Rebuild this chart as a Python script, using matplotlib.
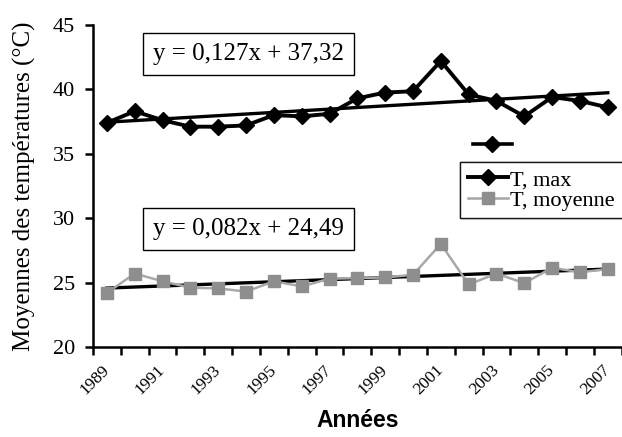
import numpy as np
import matplotlib
matplotlib.use('Agg')
import matplotlib.pyplot as plt
from matplotlib.lines import Line2D
from matplotlib.legend import Legend

annees = list(range(1989, 2008))
t_max = [37.4, 38.3, 37.6, 37.1, 37.1, 37.2, 38.0, 37.9, 38.1, 39.3,
         39.75, 39.85, 42.2, 39.6, 39.1, 37.9, 39.4, 39.1, 38.6]
t_moy = [24.2, 25.7, 25.1, 24.6, 24.55, 24.3, 25.1, 24.7, 25.3, 25.35,
         25.4, 25.6, 28.0, 24.85, 25.7, 24.95, 26.15, 25.8, 26.05]
# trend lines (Excel) : y = a*x + b, x = 1..n
trend_max = (0.127, 37.32)
trend_moy = (0.082, 24.49)
eq_max = 'y = 0,127x + 37,32'
eq_moy = 'y = 0,082x + 24,49'

serif = 'Liberation Serif'
grey_mk = '#8e8e8e'
grey_ln = '#a8a8a8'

fig = plt.figure(figsize=(6.22, 4.37), dpi=100)
ax = fig.add_axes([0.1495, 0.206, 0.85, 0.737])

x = np.arange(len(annees))
xi = x + 1
ax.plot(x, trend_max[0] * xi + trend_max[1], color='black', lw=2.4, zorder=2)
ax.plot(x, trend_moy[0] * xi + trend_moy[1], color='black', lw=2.4, zorder=2)
l1, = ax.plot(x, t_max, color='black', lw=2.8, marker='D', ms=8.5,
              mfc='black', mec='black', zorder=4, label='T, max')
l2, = ax.plot(x, t_moy, color=grey_ln, lw=1.8, marker='s', ms=8.5,
              mfc=grey_mk, mec=grey_mk, zorder=3, label='T, moyenne')

ax.set_xlim(-0.5, len(annees) - 0.5)
ax.set_ylim(20, 45)
ax.set_yticks([20, 25, 30, 35, 40, 45])
ax.tick_params(axis='y', direction='out', length=6, width=1.8, labelsize=16, pad=7)
for t in ax.get_yticklabels():
    t.set_fontfamily(serif)

ax.set_xticks(np.arange(-0.5, len(annees)))
ax.set_xticklabels([])
ax.tick_params(axis='x', which='major', direction='out', length=6, width=1.8)
ax.set_xticks(x[::2], minor=True)
ax.set_xticklabels([str(a) for a in annees[::2]], minor=True, rotation=45,
                   ha='right', va='center', rotation_mode='anchor',
                   fontsize=12.5, fontfamily=serif)
ax.tick_params(axis='x', which='minor', length=0, pad=15)

for s in ['top', 'right']:
    ax.spines[s].set_visible(False)
for s in ['left', 'bottom']:
    ax.spines[s].set_linewidth(1.8)

ax.set_ylabel('Moyennes des températures (°C)', fontfamily=serif, fontsize=18, labelpad=12)
ax.set_xlabel('Années', fontfamily='Liberation Sans', fontweight='bold', fontsize=16.5, labelpad=8)

box = dict(boxstyle='square,pad=0.4', fc='white', ec='black', lw=1.0)
ax.text(0.114, 0.911, eq_max, transform=ax.transAxes, fontfamily=serif, fontsize=18,
        va='center', ha='left', bbox=box, zorder=6)
ax.text(0.114, 0.366, eq_moy, transform=ax.transAxes, fontfamily=serif, fontsize=18,
        va='center', ha='left', bbox=box, zorder=6)

leg = ax.legend(handles=[l1, l2], loc='upper left', bbox_to_anchor=(0.695, 0.575),
                prop={'family': serif, 'size': 16}, frameon=True, fancybox=False,
                edgecolor='black', handlelength=1.8, handletextpad=0.1,
                borderpad=0.35, labelspacing=0.0, borderaxespad=0)
leg.get_frame().set_linewidth(1.0)
leg.set_zorder(7)

stray = Line2D([], [], color='black', lw=2.6, marker='D', ms=8.5)
leg2 = Legend(ax, [stray], [''], loc='upper left', bbox_to_anchor=(0.719, 0.654),
              frameon=False, handlelength=1.8, prop={'family': serif, 'size': 15.5},
              borderaxespad=0, borderpad=0)
ax.add_artist(leg2)
ax.add_artist(leg)

fig.savefig('out.png', dpi=100)
